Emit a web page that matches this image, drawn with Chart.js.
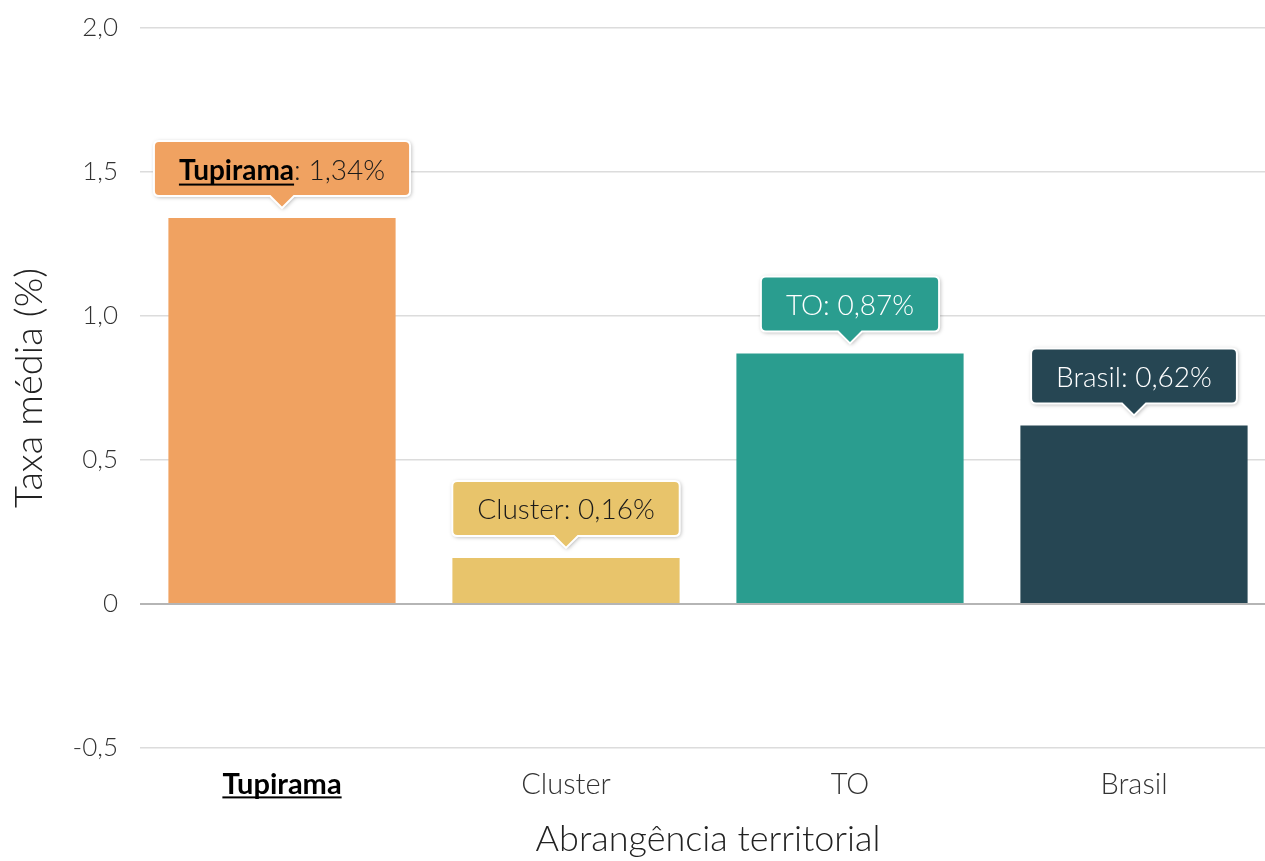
<!DOCTYPE html>
<html>
<head>
<meta charset="utf-8">
<script src="https://cdn.jsdelivr.net/npm/chart.js@4/dist/chart.umd.min.js"></script>
<style>
  html, body { margin: 0; padding: 0; background: #fff; overflow: hidden; }
  #wrap { width: 1280px; height: 861px; }
</style>
</head>
<body>
<div id="wrap"><canvas id="c" width="1280" height="861"></canvas></div>
<script>
const categories = ['Tupirama', 'Cluster', 'TO', 'Brasil'];
const values = [1.34, 0.16, 0.87, 0.62];
const valueLabels = ['1,34%', '0,16%', '0,87%', '0,62%'];
const barColors = ['#F0A261', '#E8C46B', '#2A9D8F', '#264653'];
const labelTextColors = ['#1a1a1a', '#1a1a1a', '#ffffff', '#ffffff'];
const highlightIndex = 0;
const yMin = -0.5, yMax = 2.0, yStep = 0.5;
const yTitle = 'Taxa média (%)';
const xTitle = 'Abrangência territorial';

const FONT = 'Lato';
const TICK_FS = 29;
const X_PAD = 19;

function fmtTick(v) {
  if (Math.abs(v) < 1e-9) return '0';
  return v.toFixed(1).replace('.', ',');
}

const calloutPlugin = {
  id: 'callouts',
  afterDatasetsDraw(chart) {
    const ctx = chart.ctx;
    const meta = chart.getDatasetMeta(0);
    const fs = 28;
    const lightFont = `300 ${fs}px ${FONT}`;
    const boldFont = `700 ${fs}px ${FONT}`;
    meta.data.forEach((bar, i) => {
      const name = categories[i];
      const rest = ': ' + valueLabels[i];
      const isHi = i === highlightIndex;
      ctx.save();
      ctx.font = isHi ? boldFont : lightFont;
      const w1 = ctx.measureText(name).width;
      ctx.font = lightFont;
      const w2 = ctx.measureText(rest).width;
      const tw = w1 + w2;
      const padX = 25;
      const bw = tw + padX * 2;
      const bh = 55;
      const gap = 10, caretH = 12, caretW = 12;
      const cx = bar.x;
      const boxBottom = bar.y - gap - caretH;
      const boxTop = boxBottom - bh;
      const left = cx - bw / 2;
      const r = 5;
      ctx.beginPath();
      ctx.moveTo(left + r, boxTop);
      ctx.lineTo(left + bw - r, boxTop);
      ctx.quadraticCurveTo(left + bw, boxTop, left + bw, boxTop + r);
      ctx.lineTo(left + bw, boxBottom - r);
      ctx.quadraticCurveTo(left + bw, boxBottom, left + bw - r, boxBottom);
      ctx.lineTo(cx + caretW, boxBottom);
      ctx.lineTo(cx, boxBottom + caretH);
      ctx.lineTo(cx - caretW, boxBottom);
      ctx.lineTo(left + r, boxBottom);
      ctx.quadraticCurveTo(left, boxBottom, left, boxBottom - r);
      ctx.lineTo(left, boxTop + r);
      ctx.quadraticCurveTo(left, boxTop, left + r, boxTop);
      ctx.closePath();
      ctx.shadowColor = 'rgba(0,0,0,0.35)';
      ctx.shadowBlur = 4;
      ctx.shadowOffsetX = 1;
      ctx.shadowOffsetY = 1;
      ctx.fillStyle = barColors[i];
      ctx.fill();
      ctx.shadowColor = 'transparent';
      ctx.lineWidth = 2;
      ctx.strokeStyle = '#ffffff';
      ctx.stroke();
      const ty = boxTop + bh / 2 + 2;
      const tx = cx - tw / 2;
      ctx.textBaseline = 'middle';
      ctx.textAlign = 'left';
      ctx.fillStyle = labelTextColors[i];
      if (isHi) {
        ctx.font = boldFont;
        ctx.fillStyle = '#000';
        ctx.fillText(name, tx, ty);
        ctx.fillRect(tx, ty + 13, w1, 2);
        ctx.fillStyle = labelTextColors[i];
        ctx.font = lightFont;
        ctx.fillText(rest, tx + w1, ty);
      } else {
        ctx.font = lightFont;
        ctx.fillText(name + rest, tx, ty);
      }
      ctx.restore();
    });
  },
  afterDraw(chart) {
    const ctx = chart.ctx;
    const xs = chart.scales.x;
    const x = xs.getPixelForTick(highlightIndex);
    ctx.save();
    ctx.font = `700 ${TICK_FS}px ${FONT}`;
    const w = ctx.measureText(categories[highlightIndex]).width;
    const yCenter = xs.top + X_PAD + TICK_FS * 1.2 / 2;
    ctx.fillStyle = '#000';
    ctx.fillRect(x - w / 2, yCenter + 12, w, 2);
    ctx.restore();
  }
};

new Chart(document.getElementById('c'), {
  type: 'bar',
  data: {
    labels: categories,
    datasets: [{
      data: values,
      backgroundColor: barColors,
      borderWidth: 0,
      barPercentage: 0.8,
      categoryPercentage: 1.0
    }]
  },
  options: {
    responsive: false,
    animation: false,
    events: [],
    layout: { padding: { top: 28, right: 4, left: 0, bottom: 0 } },
    plugins: { legend: { display: false }, tooltip: { enabled: false } },
    scales: {
      x: {
        grid: { display: false, drawTicks: false },
        border: { display: false },
        ticks: {
          padding: X_PAD,
          color: (c) => c.index === highlightIndex ? '#000' : '#333',
          font: (c) => c.index === highlightIndex
            ? { family: FONT, size: TICK_FS, weight: '700' }
            : { family: FONT, size: TICK_FS, weight: '300' }
        },
        title: {
          display: true, text: xTitle, color: '#222',
          font: { family: FONT, size: 36, weight: '300' },
          padding: { top: 0, bottom: 0 }
        },
        afterFit: (s) => { s.height = 113; s.paddingLeft = 0; s.paddingRight = 0; }
      },
      y: {
        min: yMin, max: yMax,
        grid: {
          drawTicks: false,
          color: (c) => (c.tick && Math.abs(c.tick.value) < 1e-9) ? '#b5b5b5' : '#dcdcdc',
          lineWidth: (c) => (c.tick && Math.abs(c.tick.value) < 1e-9) ? 2 : 1.5
        },
        border: { display: false },
        ticks: {
          stepSize: yStep,
          padding: 22,
          color: '#333',
          font: { family: FONT, size: 26, weight: '300' },
          callback: (v) => fmtTick(v)
        },
        title: {
          display: true, text: yTitle, color: '#222',
          font: { family: FONT, size: 38, weight: '300' },
          padding: { top: 7, bottom: 0 }
        },
        afterFit: (s) => { s.width = 140; s.paddingTop = 0; s.paddingBottom = 0; }
      }
    }
  },
  plugins: [calloutPlugin]
});
</script>
</body>
</html>
